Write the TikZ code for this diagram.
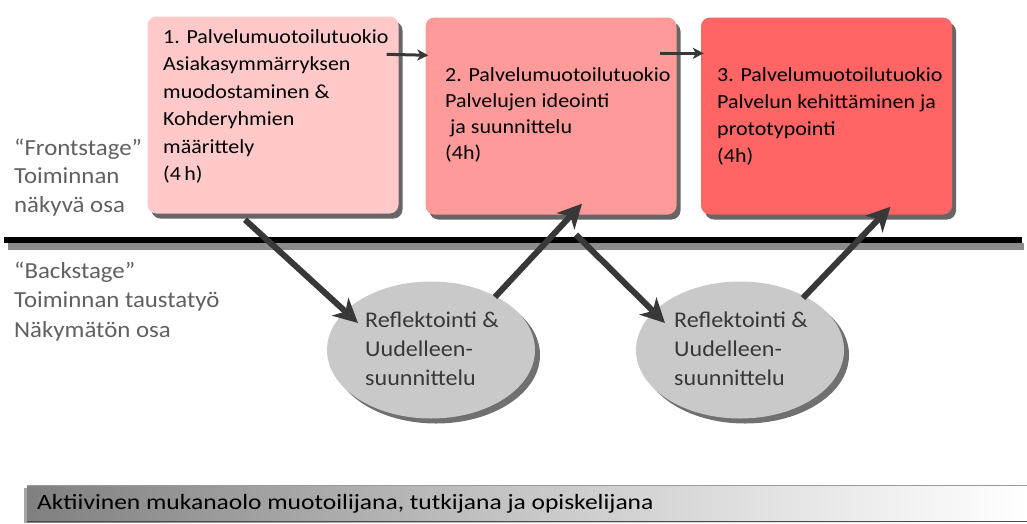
\documentclass[tikz,border=0pt]{standalone}
\usepackage{fontspec}
\setmainfont{Carlito}
\newfontfamily\boxfont[FakeStretch=1.10]{Carlito}
\newfontfamily\ellfont[FakeStretch=1.07]{Carlito}
\newfontfamily\sidefont[FakeStretch=1.08]{Carlito}
\newfontfamily\barfont[FakeStretch=1.17]{Carlito}
\usetikzlibrary{arrows.meta,shadows,calc,shapes.geometric}
\definecolor{pinkA}{HTML}{FFC9C9}
\definecolor{pinkB}{HTML}{FF9A9A}
\definecolor{pinkC}{HTML}{FF6565}
\definecolor{ellgray}{HTML}{C9C9C9}
\definecolor{arrowgray}{HTML}{383838}
\definecolor{labelgray}{HTML}{606060}
\tikzset{
  stagebox/.style={rounded corners=9pt, minimum width=251pt, minimum height=197pt,
    drop shadow={shadow xshift=4pt, shadow yshift=-5pt, opacity=0.75, fill=black!80}},
  boxtext/.style={anchor=base west, align=left, inner sep=0pt, text=black},
  reflell/.style={ellipse, fill=ellgray, minimum width=208pt, minimum height=137pt,
    drop shadow={shadow xshift=5pt, shadow yshift=-5pt, opacity=0.7, fill=black!80}},
  elltext/.style={anchor=base west, align=left, inner sep=0pt, font=\ellfont\fontsize{22.5}{29}\selectfont, text=black!78},
  sidetext/.style={anchor=base west, align=left, inner sep=0pt, text=labelgray},
  bigarrow/.style={draw=arrowgray, line width=6pt, -{Stealth[length=24pt, width=24pt, inset=7pt]}},
  smallarrow/.style={draw=arrowgray, line width=3pt, -{Stealth[length=11pt, width=11pt, inset=3pt]}}
}
\begin{document}
\begin{tikzpicture}[x=1pt,y=-1pt]
\useasboundingbox (0,0) rectangle (1027,523);
% boxes
\node[stagebox, fill=pinkA] (b1) at (273,115) {};
\node[stagebox, fill=pinkB] (b2) at (551,116) {};
\node[stagebox, fill=pinkC] (b3) at (826.5,116) {};
\node[boxtext, font=\boxfont\fontsize{20}{27.5}\selectfont] (t1) at (163,180.5) {1. Palvelumuotoilutuokio\\Asiakasymmärryksen\\muodostaminen \&\\Kohderyhmien\\määrittely\\(4\,h)};
\node[boxtext, font=\boxfont\fontsize{20}{25.7}\selectfont] (t2) at (445,159) {2. Palvelumuotoilutuokio\\Palvelujen ideointi\\\ ja suunnittelu\\(4h)};
\node[boxtext, font=\boxfont\fontsize{20}{26.7}\selectfont] (t3) at (717,162) {3. Palvelumuotoilutuokio\\Palvelun kehittäminen ja\\prototypointi\\(4h)};
% dividing line
\fill[black!45] (8,243) rectangle (1024,250);
\node[fill=black, minimum width=1018pt, minimum height=6pt, inner sep=0pt] (line) at (513,240) {};
% side labels
\node[sidetext, font=\sidefont\fontsize{23}{28.5}\selectfont] (front) at (14,212) {“Frontstage”\\Toiminnan\\näkyvä osa};
\node[sidetext, font=\sidefont\fontsize{23}{29.5}\selectfont] (back) at (14,337) {“Backstage”\\Toiminnan taustatyö\\Näkymätön osa};
% ellipses
\node[reflell] (e1) at (431,350) {};
\node[reflell] (e2) at (740,350) {};
\node[elltext] (et1) at (365,385) {Reflektointi \&\\Uudelleen-\\suunnittelu};
\node[elltext] (et2) at (674,385) {Reflektointi \&\\Uudelleen-\\suunnittelu};
% arrows
\draw[smallarrow] ($(b1.north east)+(-12,38)$) -- ($(b2.north west)+(3,38)$);
\draw[smallarrow] ($(b2.north east)+(-17,36)$) -- ($(b3.north west)+(3,36)$);
\draw[bigarrow] ($(b1.south)+(-28,6)$) -- ($(e1.center)+(-73,-27)$);
\draw[bigarrow] ($(e1.center)+(64,-53)$) -- ($(b2.south)+(31,-11)$);
\draw[bigarrow] ($(b2.south)+(25,20)$) -- ($(e2.center)+(-75,-27)$);
\draw[bigarrow] ($(e2.center)+(63,-52)$) -- ($(b3.south)+(64,-8)$);
% bottom bar
\fill[black!35] (24,488) rectangle (27,523);
\shade[left color=black!50, right color=white, middle color=black!22] (27,485) rectangle (1027,522);
\draw[black!40, line width=1pt] (27,485.5) -- (1027,485.5);
\draw[black!70, line width=1.5pt] (27,521.5) -- (1027,521.5);
\node[anchor=base west, inner sep=0pt, font=\barfont\fontsize{21.8}{24}\selectfont, text=black] (bar) at (37,509) {Aktiivinen mukanaolo muotoilijana, tutkijana ja opiskelijana};
\end{tikzpicture}
\end{document}
